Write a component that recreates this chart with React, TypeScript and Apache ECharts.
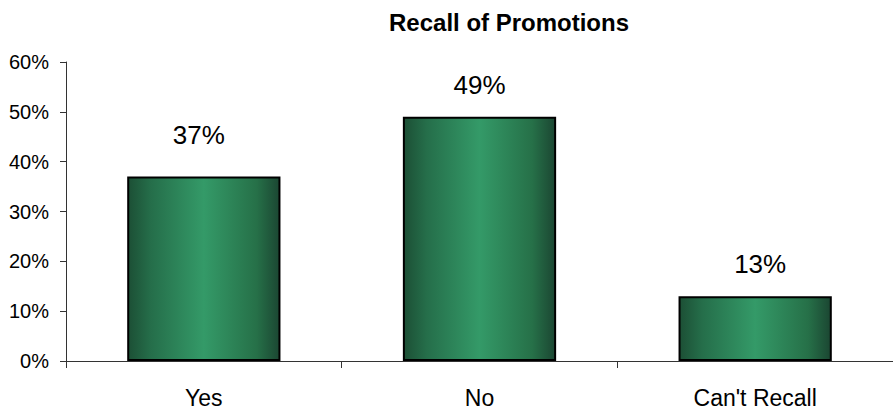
import React, { useEffect, useRef } from "react";
import * as echarts from "echarts";

const categories = ["Yes", "No", "Can't Recall"];
const recallShare = [37, 49, 13];
const yTicks = [0, 10, 20, 30, 40, 50, 60];
// Per-bar nudges for the value labels: [dx, extra lift]
const labelNudge = [
  [-5, 10],
  [0, 0],
  [5, 0],
];

const FONT = "'Liberation Sans', Arial, sans-serif";

export default function App() {
  const ref = useRef<HTMLDivElement>(null);

  useEffect(() => {
    if (!ref.current) return;
    const chart = echarts.init(ref.current, undefined, { renderer: "svg" });

    const barFill = new echarts.graphic.LinearGradient(0, 0, 1, 0, [
      { offset: 0, color: "#1c4f35" },
      { offset: 0.15, color: "#256e4a" },
      { offset: 0.5, color: "#349a68" },
      { offset: 0.85, color: "#267048" },
      { offset: 1, color: "#1b4632" },
    ]);

    chart.setOption({
      animation: false,
      backgroundColor: "#ffffff",
      title: {
        text: "Recall of Promotions",
        left: 384,
        top: 5,
        textStyle: { fontFamily: FONT, fontSize: 24, fontWeight: "bold", color: "#000" },
      },
      grid: { left: 66, top: 62, width: 831, height: 300, containLabel: false },
      xAxis: {
        type: "category",
        data: categories,
        axisLine: { lineStyle: { color: "#333", width: 1 } },
        axisTick: { show: true, length: 7, alignWithLabel: false, lineStyle: { color: "#333" } },
        axisLabel: { fontFamily: FONT, fontSize: 23, color: "#000", margin: 25 },
        splitLine: { show: false },
      },
      yAxis: {
        type: "value",
        min: yTicks[0],
        max: yTicks[yTicks.length - 1],
        interval: 10,
        axisLine: { show: true, lineStyle: { color: "#333", width: 1 } },
        axisTick: { show: true, length: 6, lineStyle: { color: "#333" } },
        axisLabel: {
          fontFamily: FONT,
          fontSize: 20,
          color: "#000",
          margin: 17,
          formatter: (v: number) => `${v}%`,
        },
        splitLine: { show: false },
      },
      series: [
        {
          type: "bar",
          data: recallShare.map((v, i) => ({
            value: v,
            label: { distance: 19 + labelNudge[i][1], offset: [labelNudge[i][0], 0] },
          })),
          barWidth: "55.6%",
          itemStyle: { color: barFill, borderColor: "#000", borderWidth: 2 },
          label: {
            show: true,
            position: "top",
            fontFamily: FONT,
            fontSize: 26,
            color: "#000",
            formatter: (p: any) => `${p.value}%`,
          },
        },
      ],
    });

    return () => chart.dispose();
  }, []);

  return <div ref={ref} style={{ width: 893, height: 409, position: "absolute", left: 0, top: 0 }} />;
}
